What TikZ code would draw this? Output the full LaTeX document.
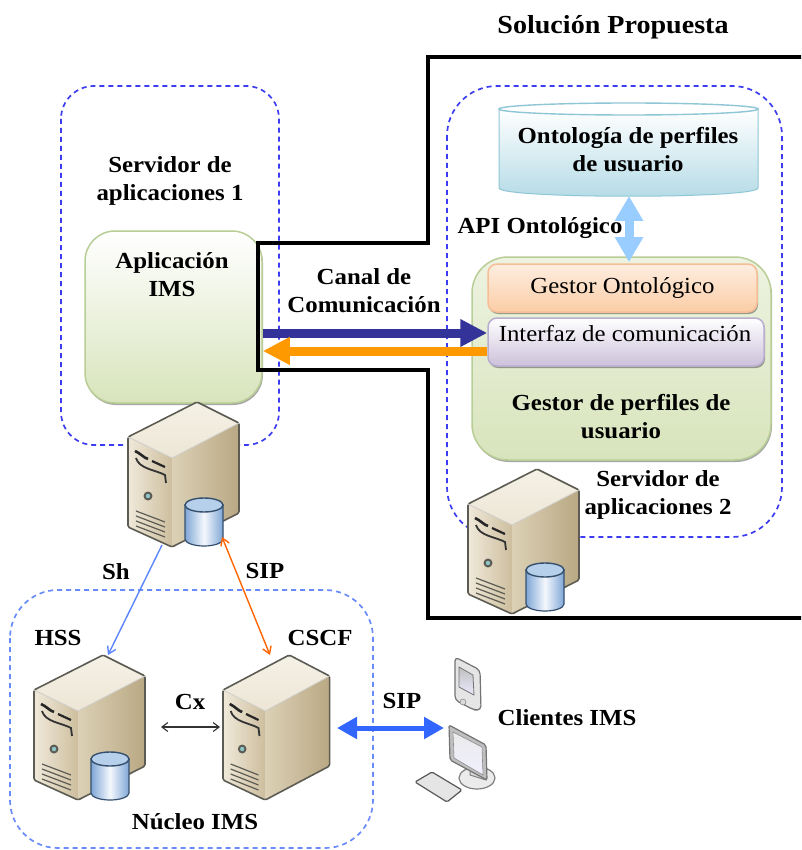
\documentclass[tikz,border=0pt]{standalone}
\usepackage{fontspec}
\setmainfont{Liberation Serif}[FakeStretch=1.08]
\usetikzlibrary{arrows.meta,shadows,calc}
\definecolor{dashA}{HTML}{3C3CF0}
\definecolor{dashB}{HTML}{6A8CFA}
\definecolor{navyArrow}{HTML}{333399}
\definecolor{orangeArrow}{HTML}{FF9900}
\definecolor{lightArrow}{HTML}{99CCFF}
\definecolor{royalArrow}{HTML}{3366FF}
\definecolor{greenEdge}{HTML}{B9CD96}
\definecolor{greenFill}{HTML}{D8E4BC}
\definecolor{sTop}{HTML}{F5F1E6}
\definecolor{sTopB}{HTML}{EDE6D6}
\definecolor{sFL}{HTML}{F0E9DA}
\definecolor{sFR}{HTML}{CDBE9E}
\definecolor{sSL}{HTML}{DCD1B6}
\definecolor{sSR}{HTML}{B9A883}
\definecolor{sEdge}{HTML}{5C5C54}
\definecolor{dbA}{HTML}{7FA6D6}
\definecolor{dbB}{HTML}{F4F8FC}
\definecolor{dbC}{HTML}{B6CFEA}
\definecolor{dbEdge}{HTML}{35506E}
\definecolor{ontoFill}{HTML}{B4DBE6}
\definecolor{ontoEdge}{HTML}{8FC6D6}
\definecolor{ifaceFill}{HTML}{CCC1DA}
\definecolor{ifaceEdge}{HTML}{B9AED0}
\definecolor{gontoFill}{HTML}{FBCDA6}
\definecolor{gontoEdge}{HTML}{F5BE96}
\tikzset{
  dashbox/.style={draw=dashA,line width=1.7pt,dash pattern=on 5pt off 4pt},
  lab/.style={font=\fontsize{23}{28}\selectfont\bfseries,align=center,inner sep=0pt,text=black},
  reg/.style={font=\fontsize{23}{28}\selectfont,align=center,inner sep=0pt,text=black},
  softshadow/.style={drop shadow={shadow xshift=1pt,shadow yshift=-2pt,opacity=.35,fill=black}},
  greenbox/.style={rectangle,rounded corners=30pt,draw=greenEdge,line width=1.5pt,top color=white,bottom color=greenFill,softshadow},
  band/.style={rectangle,rounded corners=9pt,line width=1.5pt,softshadow},
  frame/.style={draw=black,line width=4pt,line cap=rect},
  server/.pic={
    \path[top color=sTop,bottom color=sTopB] (0,0) -- (69,-35) -- (111,-14) -- (44,21) -- cycle;
    \path[left color=sFL,right color=sFR] (0,0) -- (44,21) -- (44,110) -- (0,90) -- cycle;
    \path[left color=sSL,right color=sSR] (44,21) -- (111,-14) -- (111,76) -- (44,110) -- cycle;
    \draw[sEdge,line width=1.6pt,line join=round,rounded corners=1.5pt] (0,0) -- (69,-35) -- (111,-14) -- (111,76) -- (44,110) -- (0,90) -- cycle;
    \draw[white!70!sEdge,line width=.8pt] (0,0) -- (44,21) -- (111,-14);
    \draw[black!85,line width=2.6pt] (7,14) .. controls (12,16) and (16,21) .. (20,22);
    \draw[black!85,line width=2.2pt] (24,24) -- (37,30);
    \draw[black!80,line width=1.8pt] (8,21) .. controls (11,32) and (28,33) .. (37,38) -- (38,46);
    \fill[sEdge] (20,59) circle (4.5pt);
    \fill[teal!45] (20,59) circle (2.2pt);
    \foreach \k in {0,1,2,3} \draw[sEdge,line width=1.2pt] (8,74+\k*5) -- (37,85+\k*5);
  },
  dbcyl/.pic={
    \path[left color=dbA,right color=dbA,middle color=dbB,draw=dbEdge,line width=1.2pt] (-19,0) -- (-19,34) arc[start angle=180,end angle=0,x radius=19,y radius=7] -- (19,0) -- cycle;
    \path[fill=dbC,draw=dbEdge,line width=1.4pt] (0,0) ellipse[x radius=19,y radius=7];
  },
}
\begin{document}
\begin{tikzpicture}[x=1pt,y=-1pt]
\useasboundingbox (0,0) rectangle (801,850);
\clip (0,0) rectangle (801,850);
\fill[white] (0,0) rectangle (801,850);
% dashed regions
\draw[dashbox,rounded corners=33pt] (61,86) rectangle (279,445);
\draw[dashbox,rounded corners=50pt] (447,86) rectangle (782,537);
\draw[dashbox,draw=dashB,rounded corners=48pt] (10,590) rectangle (373,848);
% application box
\node[greenbox,minimum width=177pt,minimum height=172pt] (app) at (173.5,317) {};
% frame
\draw[frame] (258,243) -- (428,243) -- (428,57) -- (806,57) -- (806,618) -- (428,618) -- (428,370) -- (258,370) -- cycle;
% ontology cylinder
\path[top color=white,bottom color=ontoFill,draw=ontoEdge,line width=1pt] (499,109) -- (499,188) .. controls (499,199) and (758,199) .. (758,188) -- (758,109) -- cycle;
\path[fill=white,draw=ontoEdge,line width=1.4pt] (628.5,109) ellipse[x radius=129.5,y radius=6];
\node[lab,minimum width=259pt,minimum height=60pt] (onto) at (628,150) {Ontología de perfiles\\de usuario};
% manager box
\node[greenbox,rounded corners=36pt,top color=greenFill!45,minimum width=299pt,minimum height=203pt] (gestor) at (621.5,358.5) {};
\node[band,draw=gontoEdge,top color=gontoFill!35,bottom color=gontoFill,minimum width=269pt,minimum height=48pt,reg] (gonto) at (622.5,288) {Gestor Ontológico};
\node[band,draw=ifaceEdge,top color=white,bottom color=ifaceFill,minimum width=276pt,minimum height=48pt,reg] (iface) at (626,342) {};
\node[reg] (ifacetxt) at (625,334) {Interfaz de comunicación};
% API arrow
\draw[lightArrow,line width=9pt,{Triangle[length=25pt,width=27pt]}-{Triangle[length=25pt,width=27pt]}] (629,196) -- (629,262);
% channel arrows
\coordinate (chanA) at (370,333);
\coordinate (chanB) at (370,351);
\draw[navyArrow,line width=9pt,-{Triangle[length=27pt,width=26pt]}] (chanA -| app.east) -- (chanA -| iface.west);
\draw[orangeArrow,line width=9pt,-{Triangle[length=27pt,width=26pt]}] (chanB -| iface.west) -- (chanB -| app.east);
% servers
\pic at (128,437) {server};
\pic at (204,505) {dbcyl};
\pic at (468,504) {server};
\pic at (545,570) {dbcyl};
\pic at (34,690) {server};
\pic at (110,759) {dbcyl};
\pic[xscale=.96] at (223,690) {server};
% connector ends
\coordinate (srvA) at (162,545);
\coordinate (srvB) at (222,537);
\coordinate (hssT) at (108,655);
\coordinate (cscfT) at (270,655);
\coordinate (hssE) at (161,727);
\coordinate (cscfW) at (220,727);
\coordinate (cscfE) at (337,728);
\coordinate (clientW) at (444,728);
\draw[royalArrow!80!white,line width=1.4pt,-{Straight Barb[length=7pt,width=9pt]}] (srvA) -- (hssT);
\draw[orange!80!red,line width=1.4pt,{Straight Barb[length=7pt,width=9pt]}-{Straight Barb[length=7pt,width=9pt]}] (srvB) -- (cscfT);
\draw[black!80,line width=1.1pt,{Straight Barb[length=6pt,width=9pt]}-{Straight Barb[length=6pt,width=9pt]}] (hssE) -- (cscfW);
\draw[royalArrow,line width=5pt,{Triangle[length=20pt,width=21pt]}-{Triangle[length=20pt,width=21pt]}] (cscfE) -- (clientW);
% clients
\path[fill=black!10,draw=black!55,line width=1.2pt,rounded corners=4pt] (455,657) -- (480,670) -- (481,710) -- (474,710) -- (455,700) -- cycle;
\path[top color=black!25,bottom color=blue!8!white,draw=black!55,line width=.8pt] (459,667) -- (473,675) -- (474,695) -- (459,687) -- cycle;
\draw[black!55,fill=black!15] (463,702) circle (3pt);
\path[fill=black!8,draw=black!50,line width=1.2pt] (477,778) ellipse[x radius=18,y radius=11];
\path[fill=black!15,draw=black!50,line width=1pt] (470,760) -- (485,765) -- (486,780) -- (470,775) -- cycle;
\path[fill=black!25,draw=black!55,line width=1.2pt,rounded corners=2pt] (449,725) -- (486,745) -- (487,780) -- (450,760) -- cycle;
\path[top color=black!8,bottom color=blue!6!white,draw=black!45,line width=.6pt] (453,732) -- (482,747) -- (483,775) -- (454,758) -- cycle;
\path[fill=black!10,draw=black!65,line width=1.2pt,rounded corners=1.5pt] (432,772) -- (462,790) -- (447,802) -- (415,782) -- cycle;
% labels
\node[lab,font=\fontsize{26}{28}\selectfont\bfseries] (title) at (613,27) {Solución Propuesta};
\node[lab] (srv1txt) at (170,181) {Servidor de\\aplicaciones 1};
\node[lab] (apptxt) at (172,275) {Aplicación\\IMS};
\node[lab] (chantxt) at (364,291) {Canal de\\Comunicación};
\node[lab] (apitxt) at (540,228) {API Ontológico};
\node[lab] (gestortxt) at (621,417) {Gestor de perfiles de\\usuario};
\node[lab] (srv2txt) at (658,495) {Servidor de\\aplicaciones 2};
\node[lab] (shtxt) at (116,572) {Sh};
\node[lab] (siptxtA) at (265,571) {SIP};
\node[lab] (hsstxt) at (58,638) {HSS};
\node[lab] (cscftxt) at (320,638) {CSCF};
\node[lab] (cxtxt) at (190,702) {Cx};
\node[lab] (nucleotxt) at (195,822) {Núcleo IMS};
\node[lab] (siptxtB) at (402,701) {SIP};
\node[lab] (clitxt) at (567,718) {Clientes IMS};
\end{tikzpicture}
\end{document}
